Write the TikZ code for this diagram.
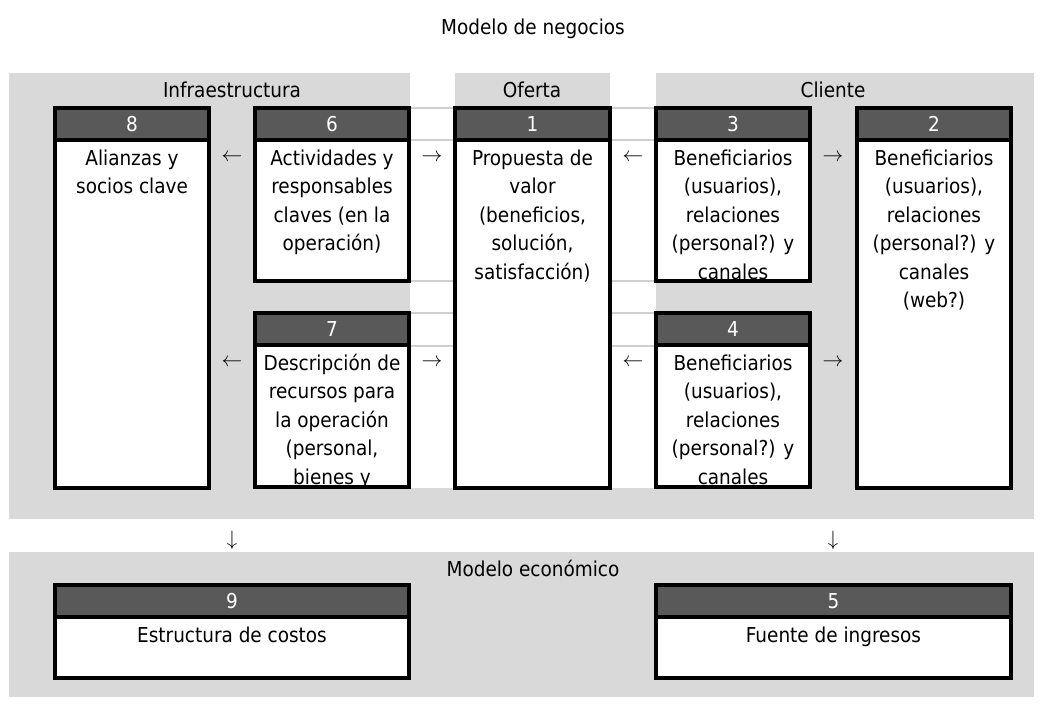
\documentclass[tikz,border=0pt]{standalone}
\usepackage{fontspec}
\setmainfont{DejaVu Sans Condensed}
\usetikzlibrary{calc}
\definecolor{bggray}{HTML}{D9D9D9}
\definecolor{hdrgray}{HTML}{595959}
\definecolor{gridgray}{HTML}{D0D0D0}
\newcommand\cellfont{\fontsize{20.5}{28.5}\selectfont}
\newcommand\arrfont{\fontsize{19.5}{22}\selectfont}
\newcommand\celltext[1]{\begin{tabular}[t]{@{}c@{}}#1\end{tabular}}
\tikzset{
  hdr/.style={fill=hdrgray, text=white, inner sep=0pt, outer sep=0pt, anchor=north west, minimum height=32, font=\cellfont},
  bod/.style={fill=white, inner sep=0pt, outer sep=0pt, anchor=north west},
  txt/.style={anchor=base, inner sep=0pt, font=\cellfont},
  lbl/.style={anchor=base, inner sep=0pt, font=\cellfont},
  arr/.style={inner sep=0pt, font=\arrfont},
  boxline/.style={draw=black, line width=3.2pt},
  grid/.style={draw=gridgray, line width=2pt},
}
% name, x, y(top), width, body height, number, text
\newcommand\mkbox[7]{%
  \node[hdr, minimum width=#4] (h#1) at (#2,#3) {#6};
  \node[bod, minimum width=#4, minimum height=#5] (b#1) at (h#1.south west) {};
  \begin{scope}
    \clip (b#1.north west) rectangle (b#1.south east);
    \node[txt] (t#1) at ($(b#1.north)+(0,25)$) {\celltext{#7}};
  \end{scope}
  \draw[boxline] (h#1.north west) rectangle (b#1.south east);
  \draw[boxline] (h#1.south west) -- (h#1.south east);
}
\begin{document}
\begin{tikzpicture}[x=1pt,y=-1pt]
\useasboundingbox (0,0) rectangle (1043,704);
% gray backgrounds
\fill[bggray] (9,73) rectangle (410,519);
\fill[bggray] (455,73) rectangle (610,108);
\fill[bggray] (656,73) rectangle (1034,519);
\fill[bggray] (9,488) rectangle (1034,519);
\fill[bggray] (9,552) rectangle (1034,697);
% light grid lines in the white columns
\foreach \yy in {108,140,281,313,346}{
  \draw[grid] (410,\yy) -- (455,\yy);
  \draw[grid] (610,\yy) -- (656,\yy);
}
% titles
\node[lbl] (title) at (533,34) {Modelo de negocios};
\node[lbl] (infra) at (232,97) {Infraestructura};
\node[lbl] (oferta) at (532,97) {Oferta};
\node[lbl] (cliente) at (833,97) {Cliente};
\node[lbl] (econ) at (533,576) {Modelo económico};
% boxes
\mkbox{8}{55}{108}{154}{348}{8}{Alianzas y\\socios clave}
\mkbox{6}{255}{108}{154}{141}{6}{Actividades y\\responsables\\claves (en la\\operación)}
\mkbox{1}{455}{108}{155}{348}{1}{Propuesta de\\valor\\(beneficios,\\solución,\\satisfacción)}
\mkbox{3}{656}{108}{154}{141}{3}{Beneficiarios\\(usuarios),\\relaciones\\(personal?) y\\canales}
\mkbox{2}{857}{108}{154}{348}{2}{Beneficiarios\\(usuarios),\\relaciones\\(personal?) y\\canales\\(web?)}
\mkbox{7}{255}{313}{154}{142}{7}{Descripción de\\recursos para\\la operación\\(personal,\\bienes y}
\mkbox{4}{656}{313}{154}{142}{4}{Beneficiarios\\(usuarios),\\relaciones\\(personal?) y\\canales}
\mkbox{9}{55}{585}{354}{61}{9}{Estructura de costos}
\mkbox{5}{656}{585}{355}{61}{5}{Fuente de ingresos}
% arrow characters
\node[arr] (a1) at (232,158) {$\leftarrow$};
\node[arr] (a2) at (432,158) {$\rightarrow$};
\node[arr] (a3) at (633,158) {$\leftarrow$};
\node[arr] (a4) at (833,158) {$\rightarrow$};
\node[arr] (a5) at (232,363) {$\leftarrow$};
\node[arr] (a6) at (432,363) {$\rightarrow$};
\node[arr] (a7) at (633,363) {$\leftarrow$};
\node[arr] (a8) at (833,363) {$\rightarrow$};
\node[arr] (d1) at (232,540) {$\downarrow$};
\node[arr] (d2) at (833,540) {$\downarrow$};
\end{tikzpicture}
\end{document}
